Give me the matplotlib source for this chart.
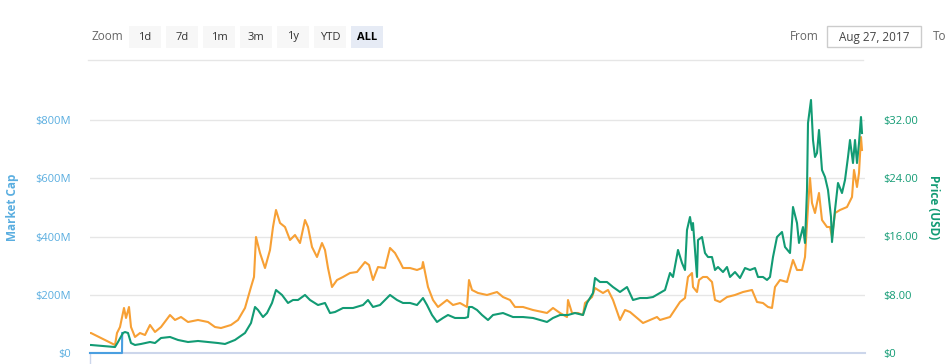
import matplotlib
matplotlib.use("Agg")
import matplotlib.pyplot as plt
from matplotlib.patches import Rectangle
from matplotlib.ticker import FixedLocator

# ---------------- data (days since Aug 27, 2017) ----------------
usd_days = [0, 1, 13, 25, 28, 33, 35, 38, 41, 45, 51, 60, 65, 71, 80, 88, 98, 108, 118, 128, 135,
            145, 155, 161, 165, 168, 173, 177, 182, 186, 192, 198, 203, 208, 215, 220, 228, 235,
            240, 245, 253, 263, 273, 278, 283, 290, 300, 307, 313, 320, 327, 333, 337, 342, 347,
            353, 358, 365, 375, 378, 379, 382, 387, 392, 398, 403, 413, 423, 433, 443, 457, 463,
            470, 478, 485, 493, 497, 503, 505, 510, 517, 523, 530, 537, 543, 550, 557, 563,
            570, 575, 580, 583, 588, 592, 595, 597, 600, 602, 603, 605, 607, 608, 612, 615, 618,
            622, 625, 628, 633, 637, 640, 645, 650, 655, 660, 665, 668, 673, 677, 680, 683, 687,
            692, 695, 700, 703, 707, 709, 713, 715, 717, 718, 721, 723, 725, 727, 729, 732, 735,
            738, 741, 742, 745, 748, 752, 755, 758, 760, 763, 765, 767, 769, 771, 772]
price_usd = [1.10, 1.10, 0.96, 0.82, 1.51, 2.75, 2.88, 2.75, 1.37, 1.10, 1.24, 1.51, 1.37, 2.06,
             2.20, 1.79, 1.51, 1.65, 1.51, 1.37, 1.24, 1.79, 2.75, 4.12, 6.32, 5.91, 4.94, 5.49,
             6.87, 8.65, 7.97, 6.87, 7.28, 7.28, 7.97, 7.28, 6.59, 6.87, 5.49, 5.63, 6.18, 6.18,
             6.59, 7.28, 6.32, 6.59, 7.97, 7.28, 6.87, 6.87, 6.59, 7.55, 6.59, 5.22, 4.26, 4.81,
             5.22, 4.81, 4.81, 4.94, 6.32, 6.32, 5.91, 5.22, 4.53, 5.22, 5.49, 4.94, 4.94, 4.81,
             4.26, 4.81, 5.22, 5.22, 5.49, 5.22, 6.87, 8.24, 10.30, 9.75, 9.75, 9.06, 8.38, 9.06,
             7.28, 7.55, 7.55, 7.69,
             8.24, 8.65, 10.99, 10.44, 14.15, 12.36, 11.40, 16.89, 18.68, 16.89, 17.85, 14.15,
             10.44, 15.52, 15.93, 13.73, 13.18, 13.18, 11.40, 11.81, 11.12, 11.81, 10.44, 11.12,
             10.30, 11.67, 11.40, 11.67, 10.44, 10.44, 10.03, 10.44, 13.18, 15.93, 16.62, 14.56,
             13.73, 20.05, 17.85, 15.11, 17.30, 15.11, 22.39, 31.59, 34.75, 29.25, 26.92, 27.47,
             30.63, 25.13, 24.17, 22.39, 18.68, 15.24, 19.64, 23.35, 21.97, 23.76, 26.92, 29.25,
             26.09, 29.25, 26.09, 28.84, 32.41, 30.21]

btc_days = [0, 1, 11, 25, 27, 30, 34, 36, 39, 41, 45, 50, 55, 60, 65, 71, 80, 85, 91, 98, 108, 118,
            125, 131, 141, 148, 155, 161, 164, 166, 170, 175, 180, 183, 186, 190, 195, 200, 205,
            210, 215, 218, 222, 227, 232, 235, 238, 242, 247, 253, 260, 267, 275, 279, 283, 288,
            295, 300, 305, 310, 313, 320, 327, 332, 333, 335, 338, 343, 348, 357, 363, 370, 377,
            379, 382, 388, 397, 407, 413, 420, 425, 433, 443, 457, 463, 470, 477, 478, 482, 488,
            493, 495, 502, 505, 508, 513, 518, 523, 530, 535, 540, 547, 553, 560, 567,
            570, 580, 590, 595, 598, 602, 603, 607, 609, 613, 617, 622, 625, 630, 637, 645, 653,
            662, 667, 673, 678, 682, 685, 690, 697, 703, 707, 712, 715, 718, 720, 722, 725, 729,
            732, 737, 740, 742, 745, 750, 757, 762, 764, 767, 769, 771, 772]
price_mbtc = [0.343, 0.343, 0.258, 0.137, 0.343, 0.446, 0.773, 0.601, 0.790, 0.446, 0.275, 0.343,
              0.309, 0.481, 0.361, 0.446, 0.652, 0.567, 0.618, 0.532, 0.567, 0.532, 0.446, 0.429,
              0.481, 0.567, 0.773, 1.133, 1.305, 1.991, 1.717, 1.459, 1.768, 2.163, 2.455, 2.232,
              2.163, 1.940, 2.026, 1.888, 2.283, 2.163, 1.820, 1.648, 1.888, 1.768, 1.459, 1.133,
              1.253, 1.305, 1.373, 1.391, 1.562, 1.511, 1.253, 1.476, 1.459, 1.803, 1.717, 1.562,
              1.459, 1.459, 1.425, 1.459, 1.562, 1.391, 1.133, 0.910, 0.790, 0.910, 0.824, 0.858,
              0.790, 1.253, 1.082, 1.030, 0.996, 1.047, 0.961, 0.910, 0.790, 0.790, 0.738, 0.687,
              0.773, 0.687, 0.618, 0.910, 0.687, 0.687, 0.652, 0.858, 0.961, 1.116, 1.082, 1.030,
              1.082, 0.910, 0.567, 0.738, 0.704, 0.601, 0.515, 0.567, 0.618,
              0.567, 0.618, 0.876, 0.944, 1.305, 1.373, 1.133, 1.047, 1.253, 1.305, 1.305, 1.219,
              0.910, 0.876, 0.961, 0.996, 1.047, 1.082, 0.876, 0.858, 0.790, 0.773, 1.133, 1.253,
              1.219, 1.597, 1.425, 1.425, 1.648, 2.506, 3.004, 2.575, 2.403, 2.747, 2.283, 2.163,
              2.163, 1.991, 2.403, 2.455, 2.506, 2.678, 3.142, 2.850, 3.090, 3.708, 3.485]

mcap_days = [0, 32, 32.2]
market_cap = [0, 0, 68.6e6]

mcap_ticks = [0, 200e6, 400e6, 600e6, 800e6]
mcap_labels = ["$0", "$200M", "$400M", "$600M", "$800M"]
usd_ticks = [0, 8, 16, 24, 32]
usd_labels = ["$0", "$8.00", "$16.00", "$24.00", "$32.00"]
zoom_buttons = ["1d", "7d", "1m", "3m", "1y", "YTD", "ALL"]
from_date = "Aug 27, 2017"

# ---------------- styling ----------------
BLUE = "#5aaee0"
BLUE_LINE = "#4a9fe0"
GREEN = "#129b74"
ORANGE = "#f7a035"
GRID = "#e6e6e6"

W, H = 951, 364
fig = plt.figure(figsize=(W / 100, H / 100), dpi=100)
plt.rcParams['font.family'] = ['Open Sans', 'DejaVu Sans']

left, right, bottom, top = 90, 865, 353, 90
ax = fig.add_axes([left / W, (H - bottom) / H, (right - left) / W, (bottom - top) / H])
usd_max = 32 * (bottom - top) / (bottom - 120)
ax.set_ylim(0, usd_max * 25e6)
ax.set_xlim(0, 775)
for s in ax.spines.values():
    s.set_visible(False)
ax.spines['bottom'].set_visible(True)
ax.spines['bottom'].set_color('#ccd6eb')
ax.spines['bottom'].set_linewidth(1.5)
ax.yaxis.set_major_locator(FixedLocator(mcap_ticks))
ax.set_yticklabels(mcap_labels)
ax.tick_params(axis='y', length=0, pad=14, labelsize=8, labelcolor=BLUE)
ax.set_xticks([0])
ax.set_xticklabels([""])
ax.tick_params(axis='x', length=8, color='#ccd6eb', width=1)
for t in mcap_ticks[1:]:
    ax.axhline(t, color=GRID, lw=1, zorder=0)
ax.plot(mcap_days, market_cap, color=BLUE_LINE, lw=1.5, clip_on=False, zorder=3)
ax.set_ylabel("Market Cap", color=BLUE, fontsize=8.5, fontweight='bold')
ax.yaxis.set_label_coords(-71 / (right - left), (bottom - 207) / (bottom - top))

ax_btc = ax.twinx()
ax_btc.set_ylim(0, 4.0 * (bottom - top) / (bottom - 120))
ax_btc.axis('off')
ax_btc.plot(btc_days, price_mbtc, color=ORANGE, lw=1.5)

ax_usd = ax.twinx()
ax_usd.set_ylim(0, usd_max)
for s in ax_usd.spines.values():
    s.set_visible(False)
ax_usd.yaxis.set_major_locator(FixedLocator(usd_ticks))
ax_usd.set_yticklabels(usd_labels)
ax_usd.tick_params(axis='y', length=0, pad=13, labelsize=8, labelcolor=GREEN)
ax_usd.plot(usd_days, price_usd, color=GREEN, lw=1.5)
ax_usd.set_ylabel("Price (USD)", color=GREEN, fontsize=8.5, fontweight='bold', rotation=270)
ax_usd.yaxis.set_label_coords(1 + 75 / (right - left), (bottom - 207) / (bottom - top))

# ---------------- range selector ----------------
def px(x, y):
    return x / W, (H - y) / H

fig.text(*px(91, 37), "Zoom", fontsize=8.5, color="#666666", va='center', ha='left')
bx = 129
for lab in zoom_buttons:
    sel = lab == "ALL"
    fig.patches.append(Rectangle(px(bx, 48), 32 / W, 22 / H, transform=fig.transFigure,
                                 facecolor="#e6ebf5" if sel else "#f7f7f7", edgecolor='none'))
    fig.text(*px(bx + 16, 37), lab, fontsize=8, color="#000000" if sel else "#333333",
             fontweight='bold' if sel else 'normal', ha='center', va='center')
    bx += 37
fig.add_artist(plt.Line2D([88 / W, 863 / W], [(H - 60) / H] * 2, color="#e6e6e6", lw=1))
fig.text(*px(790, 37), "From", fontsize=8.5, color="#666666", va='center', ha='left')
fig.patches.append(Rectangle(px(827, 47), 94 / W, 21 / H, transform=fig.transFigure,
                             facecolor='white', edgecolor='#cccccc', lw=1))
fig.text(*px(874, 37), from_date, fontsize=8.5, color="#444444", va='center', ha='center')
fig.text(*px(933, 37), "To", fontsize=8.5, color="#666666", va='center', ha='left')

fig.savefig("out.png", dpi=100, facecolor='white')
